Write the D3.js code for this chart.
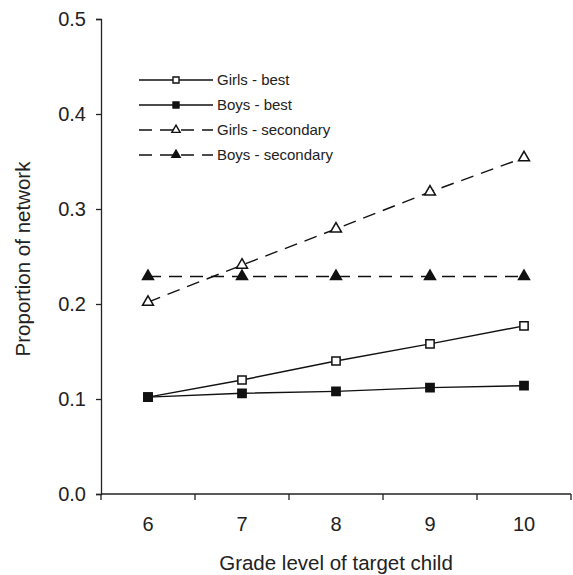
<!DOCTYPE html>
<html>
<head>
<meta charset="utf-8">
<title>Proportion of network by grade</title>
<script src="https://d3js.org/d3.v7.min.js"></script>
<style>
  body { margin: 0; background: #fff; }
  text { font-family: "Liberation Sans", Arial, sans-serif; fill: #222; }
</style>
</head>
<body>
<div id="chart"></div>
<script>
// data
var grades = ["6", "7", "8", "9", "10"];
var girlsBest = [0.102, 0.120, 0.140, 0.158, 0.177];
var boysBest = [0.102, 0.106, 0.108, 0.112, 0.114];
var girlsSecondary = [0.202, 0.241, 0.279, 0.318, 0.354];
var boysSecondary = [0.229, 0.229, 0.229, 0.229, 0.229];
var yTicks = [0, 0.1, 0.2, 0.3, 0.4, 0.5];

var series = [
  { name: "Girls - best", values: girlsBest, dash: null, marker: "square", fill: "#fff" },
  { name: "Boys - best", values: boysBest, dash: null, marker: "square", fill: "#111" },
  { name: "Girls - secondary", values: girlsSecondary, dash: "13,8", marker: "triangle", fill: "#fff" },
  { name: "Boys - secondary", values: boysSecondary, dash: "13,8", marker: "triangle", fill: "#111" }
];

var W = 573, H = 575;
var mLeft = 101, mRight = 571, mTop = 19, mBottom = 494;

var svg = d3.select("#chart").append("svg")
  .attr("width", W).attr("height", H);

var x = d3.scaleBand().domain(grades).range([mLeft, mRight]);
var y = d3.scaleLinear().domain([0, 0.5]).range([mBottom, mTop]);

// y axis
svg.append("g")
  .attr("transform", "translate(" + mLeft + ",0)")
  .call(d3.axisLeft(y).tickValues(yTicks).tickFormat(d3.format(".1f")).tickSize(5).tickPadding(10))
  .call(function(g) {
    g.select(".domain").attr("stroke", "#222").attr("stroke-width", 1.3);
    g.selectAll(".tick line").attr("stroke", "#222").attr("stroke-width", 1.3);
    g.selectAll("text").attr("font-size", 20).attr("fill", "#222")
      .attr("font-family", "'Liberation Sans', Arial, sans-serif");
  });

// x axis: ticks sit between the categories
svg.append("line")
  .attr("x1", mLeft).attr("x2", mRight)
  .attr("y1", mBottom).attr("y2", mBottom)
  .attr("stroke", "#222").attr("stroke-width", 1.3);

var bounds = grades.map(function(d) { return x(d); }).concat([mRight]);
svg.selectAll(".xtick").data(bounds).enter().append("line")
  .attr("class", "xtick")
  .attr("x1", function(d) { return d; }).attr("x2", function(d) { return d; })
  .attr("y1", mBottom).attr("y2", mBottom + 6)
  .attr("stroke", "#222").attr("stroke-width", 1.3);

svg.selectAll(".xlab").data(grades).enter().append("text")
  .attr("class", "xlab")
  .attr("x", function(d) { return x(d) + x.bandwidth() / 2; })
  .attr("y", 531)
  .attr("text-anchor", "middle")
  .attr("font-size", 20)
  .text(function(d) { return d; });

// axis titles
svg.append("text")
  .attr("x", (mLeft + mRight) / 2).attr("y", 570)
  .attr("text-anchor", "middle").attr("font-size", 20.5)
  .text("Grade level of target child");

svg.append("text")
  .attr("transform", "translate(30,259) rotate(-90)")
  .attr("text-anchor", "middle").attr("font-size", 20.5)
  .text("Proportion of network");

var cx = function(i) { return x(grades[i]) + x.bandwidth() / 2; };

var line = d3.line()
  .x(function(d, i) { return cx(i); })
  .y(function(d) { return y(d); });

var sym = {
  square: d3.symbol().type(d3.symbolSquare).size(68),
  triangle: d3.symbol().type(d3.symbolTriangle).size(52)
};

series.forEach(function(s) {
  svg.append("path")
    .attr("d", line(s.values))
    .attr("fill", "none")
    .attr("stroke", "#111")
    .attr("stroke-width", 1.4)
    .attr("stroke-dasharray", s.dash);

  svg.selectAll(null).data(s.values).enter().append("path")
    .attr("d", sym[s.marker])
    .attr("transform", function(d, i) { return "translate(" + cx(i) + "," + y(d) + ")"; })
    .attr("fill", s.fill)
    .attr("stroke", "#111")
    .attr("stroke-width", 1.5);
});

// legend
var legend = svg.append("g");
var rowY = [80, 105, 130, 155];
series.forEach(function(s, i) {
  var g = legend.append("g").attr("transform", "translate(0," + rowY[i] + ")");
  g.append("line")
    .attr("x1", 139).attr("x2", 213)
    .attr("stroke", "#111").attr("stroke-width", 1.4)
    .attr("stroke-dasharray", s.dash);
  g.append("path")
    .attr("d", d3.symbol().type(s.marker === "square" ? d3.symbolSquare : d3.symbolTriangle).size(s.marker === "square" ? 36 : 30))
    .attr("transform", "translate(176,0)")
    .attr("fill", s.fill).attr("stroke", "#111").attr("stroke-width", 1.4);
  g.append("text")
    .attr("x", 217).attr("y", 5)
    .attr("font-size", 15)
    .text(s.name);
});
</script>
</body>
</html>
